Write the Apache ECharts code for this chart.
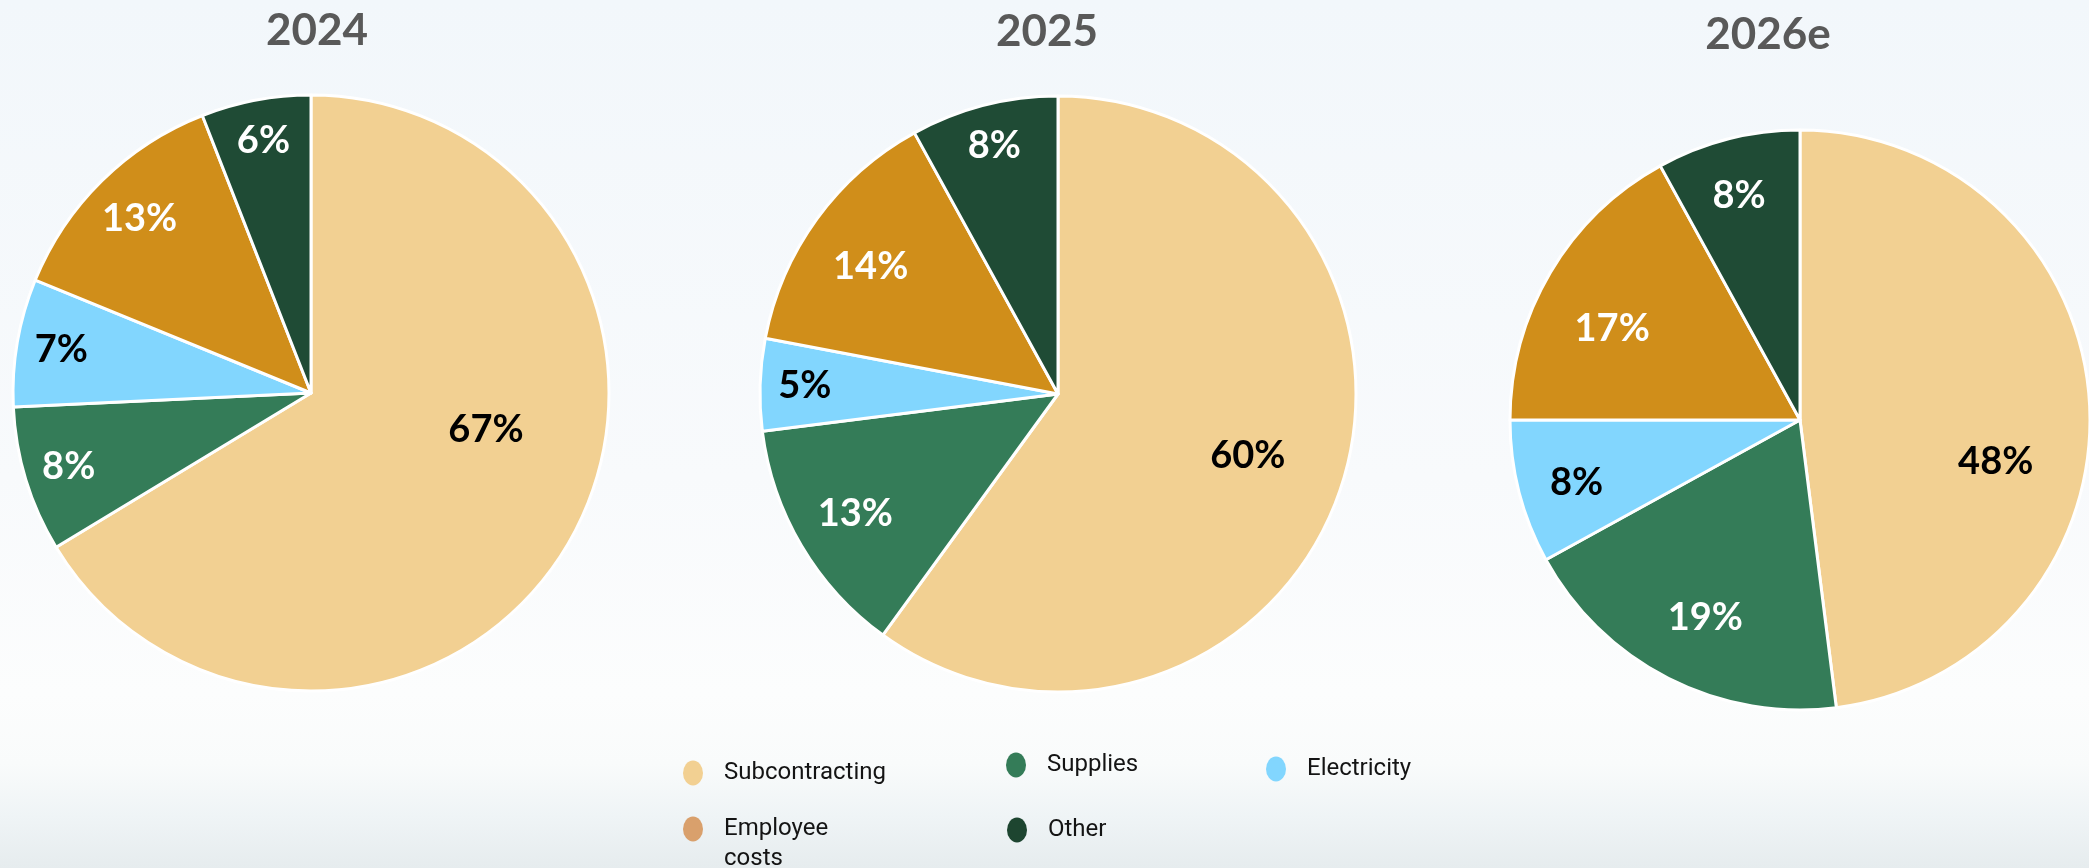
<!DOCTYPE html>
<html>
<head>
<meta charset="utf-8">
<title>Cost structure</title>
<script src="https://cdn.jsdelivr.net/npm/echarts@6/dist/echarts.min.js"></script>
<style>
  html, body { margin: 0; padding: 0; }
  #chart { width: 2089px; height: 868px; }
</style>
</head>
<body>
<div id="chart"></div>
<script>
// ---- data ----
const categories = ['Subcontracting', 'Supplies', 'Electricity', 'Employee costs', 'Other'];
const years = ['2024', '2025', '2026e'];
const share2024 = [67, 8, 7, 13, 6];
const share2025 = [60, 13, 5, 14, 8];
const share2026e = [48, 19, 8, 17, 8];
// legend wording; the leading blank line keeps "Employee" level with its marker
const legendText = ['Subcontracting', 'Supplies', 'Electricity', ' \nEmployee\ncosts', 'Other'];

// ---- styling ----
const sliceColors = ['#F2D092', '#347C58', '#82D6FE', '#D08E1A', '#1F4B35'];
const legendColors = ['#F2D092', '#347C58', '#82D6FE', '#D9A06C', '#1D4530'];
const labelColors = ['#000000', '#ffffff', '#000000', '#ffffff', '#ffffff'];

// pie geometry and label placement (radius ratio, angular shift in degrees)
const pieLayout = [
  { cx: 311,  cy: 393, r: 298, titleX: 317,  titleTop: 9,
    labelRadius: [0.60, 0.85, 0.85, 0.82, 0.86], labelShift: [-17.5, 0, 0, 0, 0] },
  { cx: 1058, cy: 394, r: 298, titleX: 1047, titleTop: 10,
    labelRadius: [0.67, 0.79, 0.85, 0.76, 0.86], labelShift: [0, 0, 0, -1.8, 0] },
  { cx: 1800, cy: 420, r: 290, titleX: 1768, titleTop: 13,
    labelRadius: [0.69, 0.755, 0.80, 0.72, 0.80], labelShift: [15.6, -1.4, -1.2, -4.7, -0.8] }
];

const legendPos = [
  { left: 683,  top: 760 },
  { left: 1006, top: 752 },
  { left: 1266, top: 756 },
  { left: 683,  top: 784 },
  { left: 1007, top: 817 }
];

const shares = [share2024, share2025, share2026e];
const ellipseIcon = 'path://M10,0A10,12.5,0,1,1,10,25A10,12.5,0,1,1,10,0Z';

function buildData(values) {
  return categories.map(function (name, i) {
    return {
      name: name,
      value: values[i],
      itemStyle: { color: sliceColors[i] },
      label: { color: labelColors[i] }
    };
  });
}

const series = years.map(function (year, k) {
  const g = pieLayout[k];
  return {
    type: 'pie',
    name: year,
    center: [g.cx, g.cy],
    radius: [0, g.r],
    startAngle: 90,
    clockwise: true,
    silent: true,
    animation: false,
    avoidLabelOverlap: false,
    itemStyle: { borderColor: '#ffffff', borderWidth: 3, borderJoin: 'round' },
    label: {
      show: true,
      position: 'inside',
      formatter: '{c}%',
      fontFamily: 'Lato',
      fontWeight: 'bold',
      fontSize: 38
    },
    labelLine: { show: false },
    emphasis: { disabled: true },
    labelLayout: function (p) {
      const lr = p.labelRect;
      const lx = lr.x + lr.width / 2;
      const ly = lr.y + lr.height / 2;
      let vx = lx - g.cx, vy = ly - g.cy;
      const len = Math.hypot(vx, vy) || 1;
      vx /= len; vy /= len;
      const d = g.labelShift[p.dataIndex] * Math.PI / 180;
      const ux = vx * Math.cos(d) - vy * Math.sin(d);
      const uy = vx * Math.sin(d) + vy * Math.cos(d);
      const rr = g.labelRadius[p.dataIndex] * g.r;
      return { x: g.cx + ux * rr, y: g.cy + uy * rr, align: 'center', verticalAlign: 'middle' };
    },
    data: buildData(shares[k])
  };
});

const titles = years.map(function (year, k) {
  return {
    text: year,
    left: pieLayout[k].titleX,
    top: pieLayout[k].titleTop,
    textAlign: 'center',
    padding: 0,
    textStyle: { fontFamily: 'Lato', fontWeight: 'bold', fontSize: 44, color: '#595959' }
  };
});

const legends = categories.map(function (name, i) {
  const multiLine = legendText[i].indexOf('\n') >= 0;
  return {
    left: legendPos[i].left,
    top: legendPos[i].top,
    padding: 0,
    orient: 'horizontal',
    selectedMode: false,
    icon: ellipseIcon,
    symbolKeepAspect: false,
    itemWidth: 20,
    itemHeight: 25,
    itemStyle: { borderWidth: 0 },
    formatter: function () { return legendText[i]; },
    textStyle: {
      fontFamily: 'Roboto',
      fontSize: 24,
      color: '#141414',
      lineHeight: multiLine ? 30 : 26,
      padding: [0, 0, 0, 16]
    },
    data: [{ name: name, itemStyle: { color: legendColors[i], borderWidth: 0 } }]
  };
});

const chart = echarts.init(document.getElementById('chart'), null, { renderer: 'canvas' });
chart.setOption({
  animation: false,
  backgroundColor: {
    type: 'linear', x: 0, y: 0, x2: 0, y2: 1,
    colorStops: [
      { offset: 0, color: '#F2F7FB' },
      { offset: 0.55, color: '#F8FAFC' },
      { offset: 0.80, color: '#FCFDFD' },
      { offset: 0.88, color: '#F9FBFB' },
      { offset: 0.94, color: '#EFF4F6' },
      { offset: 1, color: '#E6ECEE' }
    ]
  },
  title: titles,
  legend: legends,
  series: series
});
</script>
</body>
</html>
